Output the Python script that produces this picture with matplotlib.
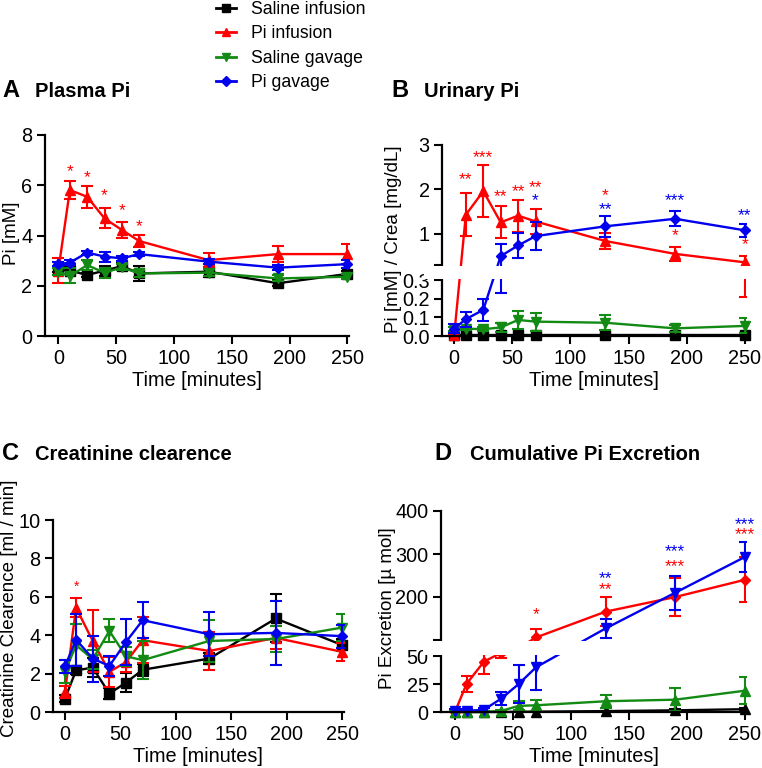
import numpy as np
import matplotlib
matplotlib.use('Agg')
import matplotlib.pyplot as plt
from matplotlib.lines import Line2D
from matplotlib.patches import Rectangle

plt.rcParams['font.family'] = ['Liberation Sans', 'DejaVu Sans']

time = [0, 10, 25, 40, 55, 70, 130, 190, 250]
groups = ['Saline infusion', 'Pi infusion', 'Saline gavage', 'Pi gavage']
colors = ['#000000', '#ff0000', '#138a13', '#0000ee']
markers = ['s', '^', 'v', 'D']
markers_d = ['^', 'D', '^', 'v']  # panel D uses other symbols

# A - plasma Pi [mM]
plasma = [
    [2.63, 2.60, 2.43, 2.60, 2.78, 2.49, 2.56, 2.10, 2.47],
    [2.60, 5.81, 5.54, 4.68, 4.22, 3.78, 3.02, 3.26, 3.26],
    [2.56, 2.39, 2.82, 2.52, 2.73, 2.49, 2.52, 2.29, 2.36],
    [2.86, 2.92, 3.32, 3.16, 3.09, 3.26, 2.96, 2.72, 2.86],
]
plasma_err = [
    [0.10, 0.15, 0.08, 0.20, 0.15, 0.30, 0.20, 0.12, 0.10],
    [0.50, 0.37, 0.45, 0.40, 0.33, 0.24, 0.27, 0.32, 0.40],
    [0.15, 0.30, 0.20, 0.20, 0.12, 0.15, 0.15, 0.12, 0.10],
    [0.08, 0.10, 0.08, 0.20, 0.10, 0.08, 0.10, 0.10, 0.15],
]
plasma_stars = [(10, 6.55, '*', 1), (25, 6.3, '*', 1), (40, 5.6, '*', 1),
                (55, 5.0, '*', 1), (70, 4.37, '*', 1)]

# B - urinary Pi / creatinine
urine = [
    [0.003, 0.003, 0.003, 0.003, 0.003, 0.003, 0.003, 0.003, 0.003],
    [0.005, 1.43, 1.96, 1.26, 1.41, 1.28, 0.84, 0.55, 0.36],
    [0.036, 0.040, 0.036, 0.046, 0.086, 0.077, 0.071, 0.041, 0.054],
    [0.040, 0.090, 0.140, 0.50, 0.74, 0.95, 1.17, 1.34, 1.08],
]
urine_err = [
    [0.002, 0.002, 0.002, 0.002, 0.002, 0.002, 0.002, 0.002, 0.002],
    [0.005, 0.48, 0.58, 0.36, 0.36, 0.28, 0.17, 0.16, 0.15],
    [0.010, 0.010, 0.010, 0.025, 0.050, 0.048, 0.040, 0.020, 0.040],
    [0.025, 0.040, 0.060, 0.27, 0.29, 0.31, 0.24, 0.17, 0.15],
]
urine_stars = [(10, 2.22, '**', 1), (25, 2.71, '***', 1), (40, 1.83, '**', 1),
               (55, 1.96, '**', 1), (70, 2.04, '**', 1), (130, 1.85, '*', 1),
               (190, 0.96, '*', 1), (250, 0.76, '*', 1), (70, 1.75, '*', 3),
               (130, 1.55, '**', 3), (190, 1.74, '***', 3), (250, 1.42, '**', 3)]

# C - creatinine clearance [ml/min]
clear = [
    [0.70, 2.17, 2.31, 0.96, 1.53, 2.20, 2.78, 4.87, 3.48],
    [1.04, 5.43, 3.70, 2.09, 2.60, 3.74, 3.18, 3.86, 3.13],
    [2.10, 3.48, 2.75, 4.22, 2.90, 2.70, 3.70, 3.80, 4.40],
    [2.38, 3.77, 2.78, 2.40, 3.65, 4.78, 4.05, 4.12, 3.95],
]
clear_err = [
    [0.20, 0.20, 0.50, 0.30, 0.50, 0.30, 0.30, 1.25, 0.30],
    [0.30, 0.50, 1.60, 0.80, 0.50, 1.20, 1.00, 0.60, 0.45],
    [0.60, 1.10, 0.50, 0.60, 0.50, 1.00, 1.10, 0.70, 0.70],
    [0.35, 1.35, 1.20, 0.50, 1.20, 0.95, 1.15, 1.65, 0.60],
]
clear_stars = [(10, 6.5, '*', 1)]

# D - cumulative Pi excretion [umol]
cumul = [
    [0.0, 0.0, 0.0, 0.0, 0.2, 0.3, 0.8, 1.5, 2.5],
    [0.0, 25, 45, 60, 75, 106, 166, 200, 240],
    [0.0, 0.0, 0.0, 1.0, 5.5, 6.0, 9.6, 11, 19],
    [0.5, 1.0, 2.0, 12, 25, 40, 127, 210, 293],
]
cumul_err = [
    [0.3, 0.3, 0.3, 0.3, 0.3, 0.3, 0.5, 0.8, 1.0],
    [1.0, 7, 11, 12, 15, 20, 34, 45, 52],
    [0.5, 0.5, 0.5, 1.0, 4, 5, 6, 10, 12],
    [2.0, 2.0, 2.0, 6, 17, 20, 22, 40, 35],
]
cumul_stars = [(70, 158, '*', 1), (130, 242, '**', 3), (130, 216, '**', 1),
               (190, 305, '***', 3), (190, 270, '***', 1),
               (250, 368, '***', 3), (250, 344, '***', 1)]


def broken(b_hi, t_lo, t_hi, b_px, gap_px, t_px):
    # piecewise linear axis in pixel units, like a prism broken axis
    def fwd(v):
        v = np.asarray(v, dtype=float)
        lower = v / b_hi * b_px
        mid = b_px + (v - b_hi) / max(t_lo - b_hi, 1e-9) * gap_px
        upper = b_px + gap_px + (v - t_lo) / (t_hi - t_lo) * t_px
        return np.where(v <= b_hi, lower, np.where(v < t_lo, mid, upper))

    def inv(s):
        s = np.asarray(s, dtype=float)
        lower = s / b_px * b_hi
        mid = b_hi + (s - b_px) / gap_px * (t_lo - b_hi)
        upper = t_lo + (s - b_px - gap_px) / t_px * (t_hi - t_lo)
        return np.where(s <= b_px, lower, np.where(s < b_px + gap_px, mid, upper))
    return fwd, inv


fig = plt.figure(figsize=(7.62, 7.68), dpi=100)
W, H = 762.0, 768.0


def add_axes(left, right, top, bottom):
    return fig.add_axes([left / W, 1 - bottom / H, (right - left) / W, (bottom - top) / H])


def style(ax, xlo):
    ax.spines['top'].set_visible(False)
    ax.spines['right'].set_visible(False)
    ax.spines['left'].set_linewidth(1.6)
    ax.spines['bottom'].set_linewidth(1.6)
    ax.set_xlim(xlo, 251)
    ax.set_xticks([0, 50, 100, 150, 200, 250])
    ax.tick_params(direction='out', length=6, width=1.5, labelsize=14.3, pad=3)


def draw(ax, vals, errs, mks, stars, star_size=12.5):
    for i in range(4):
        ax.errorbar(time, vals[i], yerr=errs[i], fmt='none', ecolor=colors[i],
                    elinewidth=1.5, capsize=4, capthick=1.5, zorder=2 + i * 0.1)
        ax.plot(time, vals[i], color=colors[i], marker=mks[i], lw=1.7,
                ms=7 if mks[i] != 'D' else 5.5, clip_on=False, zorder=2.05 + i * 0.1)
    for t, y, s, ci in stars:
        ax.text(t, y, s, color=colors[ci], ha='center', va='center',
                fontsize=star_size, zorder=10)


def hide_gap(ax, s0, s1, total):
    ax.add_patch(Rectangle((-0.06, (s0 + 1.2) / total), 1.1, (s1 - s0 - 2.4) / total,
                           transform=ax.transAxes, facecolor='white', edgecolor='none',
                           zorder=8, clip_on=False))


# panel A
axA = add_axes(45, 348.5, 135, 336)
draw(axA, plasma, plasma_err, markers, plasma_stars)
style(axA, -11.5)
axA.set_ylim(0, 8)
axA.set_yticks([0, 2, 4, 6, 8])

# panel B
axB = add_axes(442, 746, 145, 336)
fB, iB = broken(0.3, 0.3, 3.0, 56, 15, 120)
axB.set_yscale('function', functions=(fB, iB))
draw(axB, urine, urine_err, markers, urine_stars)
style(axB, -10.5)
axB.set_ylim(0, 3)
axB.set_yticks([0, 0.1, 0.2, 0.3, 0.300001, 1, 2, 3])
axB.set_yticklabels(['0.0', '0.1', '0.2', '0.3', '', '1', '2', '3'])
hide_gap(axB, 56, 71, 191)

# panel C
axC = add_axes(53, 343.5, 520, 712)
draw(axC, clear, clear_err, markers, clear_stars, star_size=10)
style(axC, -10.8)
axC.set_ylim(0, 10)
axC.set_yticks([0, 2, 4, 6, 8, 10])

# panel D
axD = add_axes(441, 746, 511, 712)
fD, iD = broken(50, 100, 400, 56, 16, 129)
axD.set_yscale('function', functions=(fD, iD))
draw(axD, cumul, cumul_err, markers_d, cumul_stars)
style(axD, -12)
axD.set_ylim(0, 400)
axD.set_yticks([0, 25, 50, 100, 200, 300, 400])
axD.set_yticklabels(['0', '25', '50', '', '200', '300', '400'])
hide_gap(axD, 56, 72, 201)

# panel titles
for x0, x1, y, letter, title in [(2, 35, 97, 'A', 'Plasma Pi'), (391, 424, 97, 'B', 'Urinary Pi'),
                                 (2, 35, 460, 'C', 'Creatinine clearence'),
                                 (434, 470, 460, 'D', 'Cumulative Pi Excretion')]:
    fig.text(x0 / W, 1 - y / H, letter, fontsize=17, fontweight='bold', va='baseline')
    fig.text(x1 / W, 1 - y / H, title, fontsize=14.5, fontweight='bold', va='baseline')

# axis labels
for x, y, label in [(12, 233, 'Pi [mM]'), (394, 239, 'Pi [mM] / Crea [mg/dL]'),
                    (9.5, 608, 'Creatinine Clearence [ml / min]'),
                    (388, 608, 'Pi Excretion [µ mol]')]:
    fig.text(x / W, 1 - y / H, label, rotation=90, ha='center', va='center', fontsize=13.5)
for x, y in [(197, 380), (594, 380), (198, 756), (594, 756)]:
    fig.text(x / W, 1 - y / H, 'Time [minutes]', ha='center', va='center', fontsize=14.3)

handles = [Line2D([], [], color=colors[i], marker=markers[i], lw=2, ms=6 if markers[i] != 'D' else 5)
           for i in range(4)]
fig.legend(handles, groups, loc='upper left', bbox_to_anchor=(215 / W, 1.0), frameon=False,
           fontsize=12.7, handlelength=1.15, handletextpad=0.85, labelspacing=0.42,
           borderaxespad=0.0, borderpad=0.05)

fig.savefig('out.png', dpi=100)
